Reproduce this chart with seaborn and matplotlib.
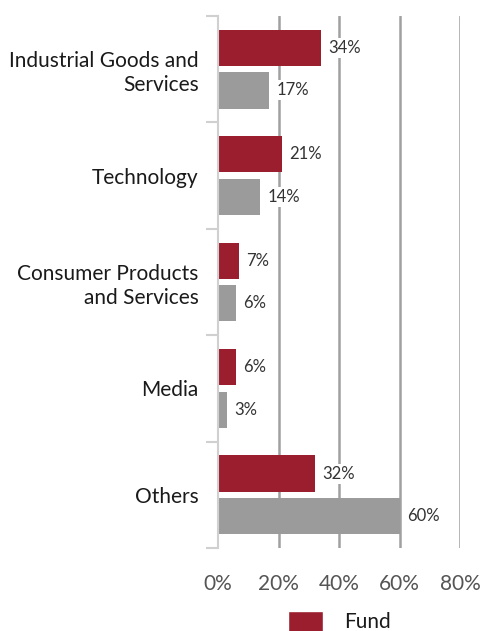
import matplotlib
matplotlib.use("Agg")
import matplotlib.pyplot as plt
import seaborn as sns
import pandas as pd
from matplotlib.ticker import FixedLocator

categories = ["Industrial Goods and\nServices", "Technology", "Consumer Products\nand Services", "Media", "Others"]
fund = [34, 21, 7, 6, 32]
benchmark = [17, 14, 6, 3, 60]
series_names = ["Fund", "Benchmark"]
x_ticks = [0, 20, 40, 60, 80]
x_tick_labels = ["0%", "20%", "40%", "60%", "80%"]

RED = "#9B1E2E"
GRAY = "#9B9B9B"

sns.set_theme(style="white")
plt.rcParams["font.family"] = ["Lato", "DejaVu Sans"]

df = pd.DataFrame({
    "Category": categories * 2,
    "Value": fund + benchmark,
    "Series": [series_names[0]] * len(categories) + [series_names[1]] * len(categories),
})

fig = plt.figure(figsize=(4.82, 6.31), dpi=100)
ax = fig.add_axes([218 / 482, 1 - 548 / 631, (460 - 218) / 482, (548 - 16) / 631])

sns.barplot(data=df, y="Category", x="Value", hue="Series", orient="h",
            palette=[RED, GRAY], width=0.8, ax=ax, zorder=2, legend=True, saturation=1)

bh = 0.34
for p in ax.patches:
    if p.get_width() == 0 and p.get_height() == 0:
        continue
    c = p.get_y() + p.get_height() / 2
    p.set_height(bh)
    p.set_y(c - bh / 2)
    p.set_edgecolor("none")

for cont in ax.containers:
    for rect in cont:
        w = rect.get_width()
        ax.text(w + 2.4, rect.get_y() + rect.get_height() / 2, f"{w:.0f}%",
                va="center", ha="left", fontsize=12, color="#333333", zorder=4,
                bbox=dict(facecolor="white", edgecolor="none", pad=1.5))

ax.set_xlim(0, 80)
ax.set_ylim(len(categories) - 0.5, -0.5)
ax.set_xticks(x_ticks)
ax.set_xticklabels(x_tick_labels)
ax.set_xlabel("")
ax.set_ylabel("")

for xv in x_ticks[1:]:
    ax.axvline(xv, color="#A0A0A0", lw=1.8, zorder=1)

for s in ["top", "right", "bottom"]:
    ax.spines[s].set_visible(False)
ax.spines["left"].set_color("#D0D0D0")
ax.spines["left"].set_linewidth(1.5)

ax.tick_params(axis="x", length=0, pad=19, labelsize=15, labelcolor="#555555")
ax.tick_params(axis="y", which="major", length=0, pad=14, labelsize=15, labelcolor="#1a1a1a")
ax.yaxis.set_minor_locator(FixedLocator([i - 0.5 for i in range(len(categories) + 1)]))
ax.tick_params(axis="y", which="minor", length=9, width=1.5, color="#D0D0D0", left=True)
for lab in ax.get_yticklabels():
    lab.set_horizontalalignment("right")
    lab.set_multialignment("right")
    lab.set_linespacing(1.25)

h, l = ax.get_legend_handles_labels()
ax.legend([h[0]], [l[0]], loc="center", bbox_to_anchor=(0.5, -0.138),
          frameon=False, fontsize=15, handlelength=1.7, handleheight=1.2,
          handletextpad=1.0, labelcolor="#1a1a1a", borderpad=0.1)

fig.savefig("out.png", dpi=100)
